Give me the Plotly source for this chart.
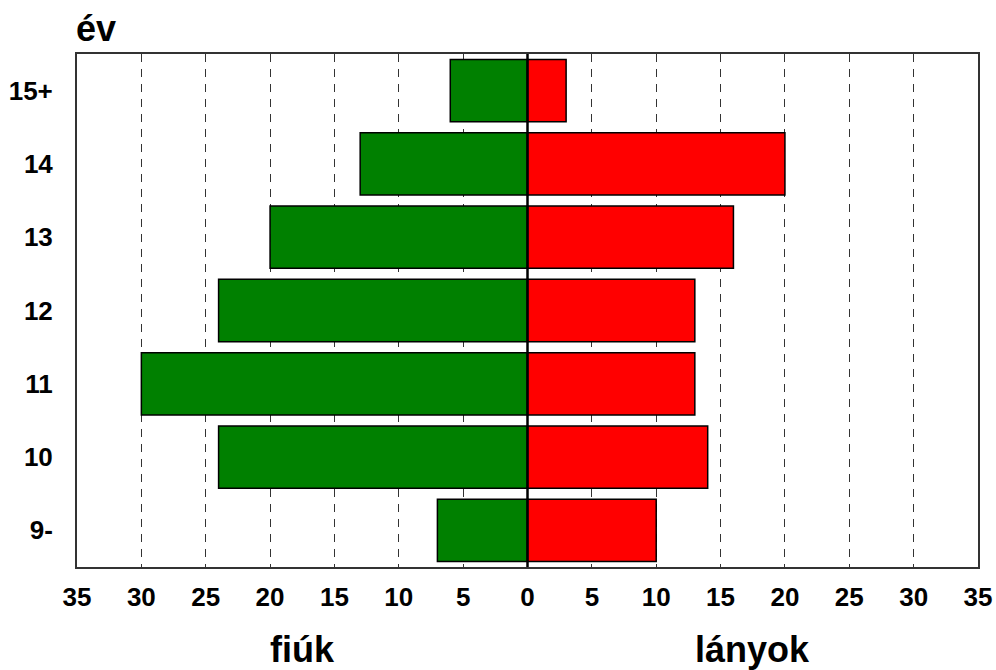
import plotly.graph_objects as go

categories = ["9-", "10", "11", "12", "13", "14", "15+"]
boys = [7, 24, 30, 24, 20, 13, 6]      # fiúk
girls = [10, 14, 13, 13, 16, 20, 3]    # lányok
tick_values = list(range(-35, 36, 5))
tick_labels = [str(abs(v)) for v in tick_values]

FONT = "Liberation Sans, Arial, sans-serif"

fig = go.Figure()
fig.add_trace(go.Bar(
    y=categories, x=[-v for v in boys], orientation="h", name="fiúk",
    marker=dict(color="#008000", line=dict(color="black", width=1.5)),
    width=0.85,
))
fig.add_trace(go.Bar(
    y=categories, x=girls, orientation="h", name="lányok",
    marker=dict(color="#ff0000", line=dict(color="black", width=1.5)),
    width=0.85,
))

fig.update_layout(
    width=996, height=670,
    margin=dict(l=77, r=18, t=54, b=103),
    barmode="overlay",
    showlegend=False,
    plot_bgcolor="white", paper_bgcolor="white",
    font=dict(family=FONT, color="black"),
    xaxis=dict(
        range=[-35, 35], tickvals=tick_values, ticktext=tick_labels,
        showgrid=True, gridcolor="#333333", griddash="8px,7px", gridwidth=1,
        zeroline=False, automargin=False,
        showline=True, linecolor="#333333", linewidth=2, mirror=True,
        ticks="", tickfont=dict(family=FONT, size=26, color="black", weight="bold"),
        ticklabelstandoff=6,
    ),
    yaxis=dict(
        range=[-0.5, 6.5], showgrid=False, zeroline=False, automargin=False,
        showline=True, linecolor="#333333", linewidth=2, mirror=True,
        ticks="", tickfont=dict(family=FONT, size=26, color="black", weight="bold"),
        ticklabelstandoff=17,
    ),
    shapes=[dict(type="line", xref="x", yref="paper", x0=0, x1=0, y0=0, y1=1,
                 line=dict(color="black", width=2.5), layer="above")],
    annotations=[
        dict(text="év", xref="paper", yref="paper", x=0, y=1, xanchor="left",
             yanchor="bottom", yshift=3, xshift=-3, showarrow=False,
             font=dict(family=FONT, size=36, color="black", weight="bold")),
        dict(text="fiúk", xref="x", yref="paper", x=-17.5, y=0, xanchor="center",
             yanchor="top", yshift=-60, showarrow=False,
             font=dict(family=FONT, size=36, color="black", weight="bold")),
        dict(text="lányok", xref="x", yref="paper", x=17.5, y=0, xanchor="center",
             yanchor="top", yshift=-60, showarrow=False,
             font=dict(family=FONT, size=36, color="black", weight="bold")),
    ],
)

fig.write_html(
    "out.html",
    config={"displayModeBar": False},
    post_script="document.body.style.margin='0';document.body.style.overflow='hidden';",
)
